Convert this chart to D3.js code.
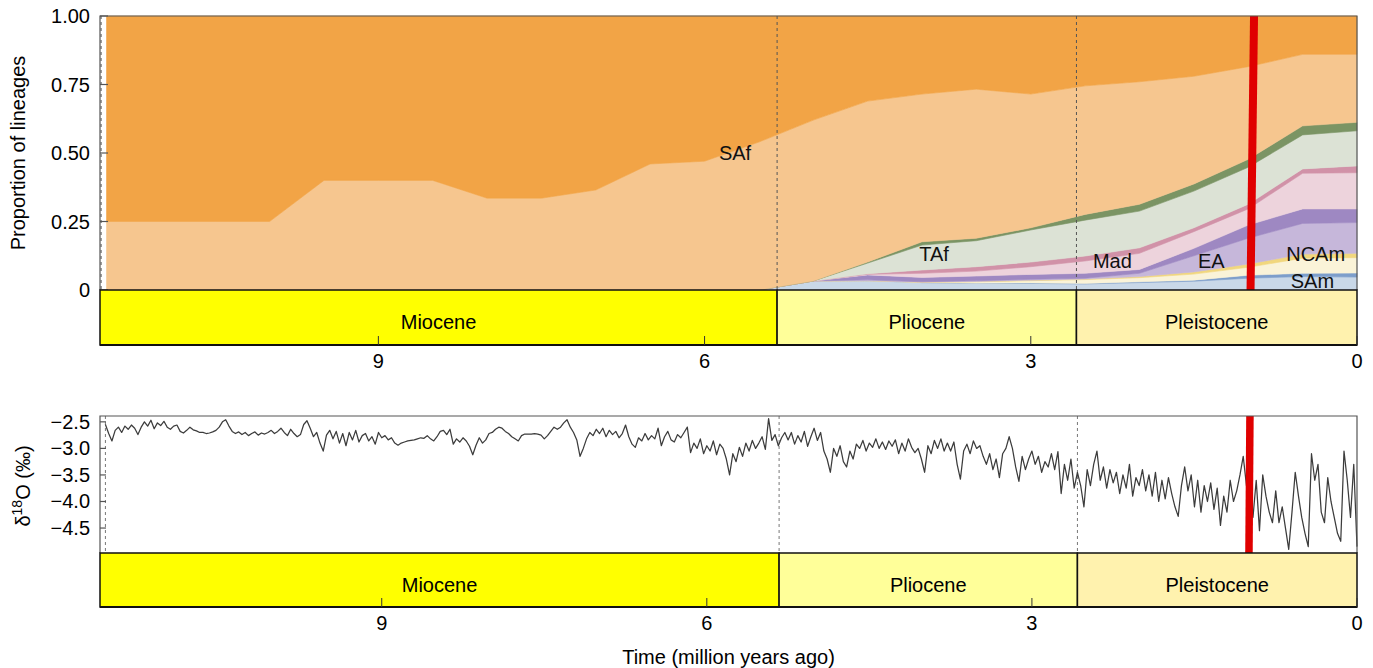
<!DOCTYPE html>
<html><head><meta charset="utf-8">
<script src="https://cdn.jsdelivr.net/npm/d3@7"></script>
<style>
body{margin:0;background:#fff}
svg{display:block;font-family:"Liberation Sans",Arial,Helvetica,sans-serif}
</style>
</head><body>
<svg id="chart" width="1373" height="668"></svg>
<script>
// ---------- DATA ----------
const times = [11.5,11.0,10.5,10.0,9.5,9.0,8.5,8.0,7.5,7.0,6.5,6.0,5.5,5.0,4.5,4.0,3.5,3.0,2.5,2.0,1.5,1.0,0.5,0.0];
const Z13 = [0,0,0,0,0,0,0,0,0,0,0,0,0];
// layer proportions, bottom to top
const SAm_b  = Z13.concat([.033,.034,.027,.024,.024,.022,.027,.032,.043,.049,.047]);
const SAm_t  = Z13.concat([0,0,0,.001,.002,.002,.003,.004,.011,.012,.015]);
const NCAm_b = Z13.concat([0,0,.001,.005,.008,.014,.015,.022,.029,.055,.056]);
const NCAm_t = Z13.concat([0,0,.001,.001,.002,.002,.004,.008,.012,.015,.016]);
const EA_b   = Z13.concat([0,.003,.001,.003,.003,.003,.012,.059,.094,.112,.112]);
const EA_t   = Z13.concat([0,.018,.016,.017,.018,.018,.014,.027,.048,.053,.050]);
const Mad_b  = Z13.concat([0,.002,.015,.018,.028,.045,.059,.061,.059,.130,.132]);
const Mad_t  = Z13.concat([0,.002,.012,.016,.017,.018,.020,.014,.017,.016,.025]);
const TAf_b  = Z13.concat([0,.039,.091,.095,.117,.131,.134,.134,.135,.124,.128]);
const TAf_t  = Z13.concat([0,.004,.012,.009,.008,.021,.025,.026,.029,.033,.031]);
const SAf_b  = [.25,.25,.25,.25,.40,.40,.40,.335,.335,.365,.46,.47,.54,.587,.586,.539,.544,.488,.469,.447,.393,.338,.261,.248];
const SAf_t  = [.75,.75,.75,.75,.60,.60,.60,.665,.665,.635,.54,.53,.46,.38,.31,.285,.267,.285,.255,.24,.22,.185,.14,.14];

const layerKeys = ["SAm_b","SAm_t","NCAm_b","NCAm_t","EA_b","EA_t","Mad_b","Mad_t","TAf_b","TAf_t","SAf_b","SAf_t"];
const layerColors = ["#C9D8E8","#7D9ECB","#FAF3D8","#F1D77E","#C6B7DA","#9E88C2","#EDD3DC","#D192A8","#DCE2D5","#7B9464","#F6C68F","#F2A446"];

const regionLabels = ["SAf","TAf","Mad","EA","NCAm","SAm"];
const regionLabelAge = [5.72,3.89,2.25,1.34,0.38,0.41];
const regionLabelProp = [0.476,0.106,0.08,0.08,0.106,0.008];

const epochNames = ["Miocene","Pliocene","Pleistocene"];
const epochStart = [23.03,5.333,2.58];
const epochEnd = [5.333,2.58,0];
const epochColors = ["#FFFF00","#FFFF99","#FFF2AE"];

const timeTicks = [9,6,3,0];
const propTicks = [0,0.25,0.5,0.75,1];
const propTickLabels = ["0","0.25","0.50","0.75","1.00"];
const d18OTicks = [-2.5,-3.0,-3.5,-4.0,-4.5];

const d18OStartAge = 11.55, d18OStep = 0.03;
const d18O = [
-2.55,-2.72,-2.86,-2.66,-2.6,-2.7,-2.58,-2.64,-2.56,-2.62,
-2.74,-2.6,-2.5,-2.58,-2.47,-2.63,-2.52,-2.57,-2.49,-2.6,
-2.64,-2.58,-2.56,-2.68,-2.71,-2.66,-2.6,-2.65,-2.67,-2.7,
-2.7,-2.72,-2.71,-2.69,-2.66,-2.6,-2.5,-2.46,-2.58,-2.68,
-2.72,-2.69,-2.74,-2.7,-2.76,-2.72,-2.69,-2.75,-2.71,-2.73,
-2.7,-2.66,-2.72,-2.68,-2.62,-2.7,-2.76,-2.64,-2.72,-2.78,
-2.74,-2.55,-2.48,-2.62,-2.78,-2.7,-2.9,-3.05,-2.75,-2.66,
-2.82,-2.68,-2.9,-2.72,-2.95,-2.7,-2.84,-2.66,-2.88,-2.76,
-2.72,-2.86,-2.78,-2.92,-2.7,-2.8,-2.76,-2.84,-2.8,-2.9,
-2.94,-2.9,-2.88,-2.86,-2.85,-2.84,-2.82,-2.8,-2.81,-2.76,
-2.82,-2.86,-2.78,-2.68,-2.66,-2.74,-2.64,-2.92,-2.82,-2.88,
-2.8,-2.86,-2.96,-3.12,-2.94,-2.8,-2.9,-2.84,-2.72,-2.7,
-2.64,-2.6,-2.62,-2.68,-2.72,-2.78,-2.82,-2.86,-2.76,-2.73,
-2.73,-2.73,-2.72,-2.73,-2.75,-2.82,-2.76,-2.68,-2.6,-2.64,
-2.6,-2.52,-2.46,-2.6,-2.7,-2.84,-3.15,-3.0,-2.82,-2.7,
-2.76,-2.64,-2.72,-2.62,-2.78,-2.66,-2.74,-2.68,-2.8,-2.72,
-2.56,-2.78,-2.92,-2.98,-2.8,-2.86,-2.72,-2.84,-2.76,-2.82,
-2.62,-2.95,-2.78,-2.68,-2.84,-2.88,-2.74,-2.8,-2.7,-2.6,
-3.08,-2.9,-3.0,-2.82,-3.1,-2.95,-3.05,-2.86,-3.12,-2.92,
-3.0,-3.2,-3.5,-3.1,-3.25,-2.98,-3.15,-2.9,-3.05,-2.85,
-3.0,-2.9,-2.78,-3.02,-2.44,-2.85,-2.74,-2.95,-2.8,-2.7,
-2.84,-2.7,-2.92,-2.76,-2.88,-2.68,-2.96,-2.78,-2.62,-2.85,
-2.7,-3.05,-3.2,-3.45,-3.0,-3.15,-2.95,-3.25,-3.35,-3.05,
-3.2,-2.92,-3.0,-2.85,-3.05,-2.9,-2.98,-2.82,-3.0,-2.88,
-3.02,-2.86,-2.96,-2.84,-3.1,-2.9,-3.05,-2.82,-2.98,-3.08,
-3.0,-3.2,-3.45,-2.95,-3.1,-2.85,-3.0,-2.82,-3.05,-2.9,
-3.05,-2.88,-3.3,-3.58,-3.05,-2.92,-3.1,-2.86,-3.0,-2.95,
-3.15,-3.3,-3.1,-3.4,-3.2,-3.55,-3.1,-3.0,-2.78,-3.0,
-3.35,-3.62,-3.15,-3.4,-3.2,-3.05,-3.3,-3.15,-3.45,-3.25,
-3.35,-3.1,-3.4,-3.06,-3.85,-3.3,-3.6,-3.2,-3.75,-3.45,
-3.7,-4.1,-3.4,-3.7,-3.3,-3.05,-3.6,-3.35,-3.75,-3.4,
-3.65,-3.45,-3.85,-3.5,-3.75,-3.3,-3.9,-3.55,-3.7,-3.4,
-3.8,-3.5,-3.9,-3.45,-4.0,-3.6,-3.95,-3.55,-3.85,-4.1,
-4.28,-3.7,-3.35,-3.8,-3.5,-4.1,-3.6,-4.2,-3.7,-4.0,
-3.65,-4.15,-3.75,-4.45,-3.9,-4.2,-3.6,-4.0,-3.8,-3.5,
-3.15,-3.7,-4.0,-4.3,-3.6,-4.55,-3.5,-3.9,-4.2,-4.4,
-3.8,-4.4,-4.1,-4.5,-4.9,-4.2,-3.45,-3.9,-4.3,-4.6,
-4.85,-3.1,-3.6,-3.3,-4.2,-4.4,-3.55,-4.0,-4.3,-4.6,
-4.75,-3.05,-3.6,-4.3,-3.3,-4.85
];

const markerAgeTop = [0.947,0.979];   // red marker (top, bottom of upper panel)
const markerAgeBot = [0.988,0.997];
const boundaryAges = [11.55,5.333,2.58];

// ---------- LAYOUT ----------
const svg = d3.select("#chart");
const L = 100, R = 1357;
const top1 = 16, bot1 = 290, bar1b = 345;
const top2 = 416, bot2 = 553, bar2b = 607;
const FS = 20;

const xTop = d3.scaleLinear().domain([11.56,0]).range([L,R]);
const yTop = d3.scaleLinear().domain([0,1]).range([bot1,top1]);
const xBot = d3.scaleLinear().domain([11.6,0]).range([L,R]);
const yBot = d3.scaleLinear().domain([-4.97,-2.39]).range([bot2,top2]);

// ---------- TOP PANEL ----------
const layerData = {SAm_b,SAm_t,NCAm_b,NCAm_t,EA_b,EA_t,Mad_b,Mad_t,TAf_b,TAf_t,SAf_b,SAf_t};
const rows = times.map((t,i)=>{const r={t}; layerKeys.forEach(k=>r[k]=layerData[k][i]); return r;});
const series = d3.stack().keys(layerKeys).offset(d3.stackOffsetExpand)(rows);
const area = d3.area().x(d=>xTop(d.data.t)).y0(d=>yTop(d[0])).y1(d=>yTop(d[1]));
svg.append("g").selectAll("path").data(series).join("path")
  .attr("d",area).attr("fill",(d,i)=>layerColors[i])
  .attr("stroke",(d,i)=>layerColors[i]).attr("stroke-width",0.6);

svg.append("g").selectAll("line").data(boundaryAges).join("line")
  .attr("x1",d=>xTop(d)).attr("x2",d=>xTop(d)).attr("y1",top1).attr("y2",bot1)
  .attr("stroke","#555").attr("stroke-width",1).attr("stroke-dasharray","3,3");

svg.append("line").attr("x1",xTop(markerAgeTop[0])).attr("y1",top1)
  .attr("x2",xTop(markerAgeTop[1])).attr("y2",bot1)
  .attr("stroke","#E00000").attr("stroke-width",8);

svg.append("path").attr("d",`M${L},${bot1}V${top1}H${R}V${bot1}`)
  .attr("fill","none").attr("stroke","#555").attr("stroke-width",1.2);

const gy1 = svg.append("g");
gy1.selectAll("line").data(propTicks).join("line")
  .attr("x1",L).attr("x2",L+8).attr("y1",d=>yTop(d)).attr("y2",d=>yTop(d))
  .attr("stroke","#555").attr("stroke-width",1.2);
gy1.selectAll("text").data(propTicks).join("text")
  .attr("x",90).attr("y",d=>yTop(d)+7).attr("text-anchor","end")
  .attr("font-size",FS).text((d,i)=>propTickLabels[i]);
svg.append("text").attr("transform",`translate(25,${(top1+bot1)/2}) rotate(-90)`)
  .attr("text-anchor","middle").attr("font-size",FS).text("Proportion of lineages");

svg.append("g").selectAll("text").data(regionLabels).join("text")
  .attr("x",(d,i)=>xTop(regionLabelAge[i])).attr("y",(d,i)=>yTop(regionLabelProp[i]))
  .attr("text-anchor","middle").attr("font-size",FS).attr("fill","#111").text(d=>d);

// ---------- EPOCH BARS ----------
function epochBar(x, yT, yB){
  const g = svg.append("g");
  const d0 = x.domain()[0];
  g.selectAll("rect").data(epochNames).join("rect")
    .attr("x",(d,i)=>x(Math.min(epochStart[i],d0))).attr("y",yT)
    .attr("width",(d,i)=>x(epochEnd[i])-x(Math.min(epochStart[i],d0))).attr("height",yB-yT)
    .attr("fill",(d,i)=>epochColors[i]).attr("stroke","#111").attr("stroke-width",1.5);
  g.selectAll("text.ep").data(epochNames).join("text").attr("class","ep")
    .attr("x",(d,i)=>(x(Math.min(epochStart[i],d0))+x(epochEnd[i]))/2)
    .attr("y",(yT+yB)/2+11.5).attr("text-anchor","middle").attr("font-size",FS).text(d=>d);
  g.append("line").attr("x1",L).attr("x2",R).attr("y1",yB).attr("y2",yB).attr("stroke","#111").attr("stroke-width",2);
  g.selectAll("line.tk").data(timeTicks).join("line").attr("class","tk")
    .attr("x1",d=>x(d)).attr("x2",d=>x(d)).attr("y1",yB).attr("y2",yB-9)
    .attr("stroke","#333").attr("stroke-width",1);
  g.selectAll("text.tl").data(timeTicks).join("text").attr("class","tl")
    .attr("x",d=>x(d)).attr("y",yB+23).attr("text-anchor","middle").attr("font-size",FS).text(d=>d);
}
epochBar(xTop, bot1, bar1b);

// ---------- BOTTOM PANEL ----------
svg.append("g").selectAll("line").data(boundaryAges).join("line")
  .attr("x1",d=>xBot(d)).attr("x2",d=>xBot(d)).attr("y1",top2).attr("y2",bot2)
  .attr("stroke","#777").attr("stroke-width",1).attr("stroke-dasharray","3,3");

const d18OPts = d18O.map((v,i)=>({age:d18OStartAge - i*d18OStep, v}));
svg.append("path").datum(d18OPts)
  .attr("d",d3.line().x(d=>xBot(d.age)).y(d=>yBot(d.v)))
  .attr("fill","none").attr("stroke","#3c3c3c").attr("stroke-width",1.25)
  .attr("stroke-linejoin","round");

svg.append("line").attr("x1",xBot(markerAgeBot[0])).attr("y1",top2)
  .attr("x2",xBot(markerAgeBot[1])).attr("y2",bot2)
  .attr("stroke","#E00000").attr("stroke-width",7.5);

svg.append("path").attr("d",`M${L},${bot2}V${top2}H${R}V${bot2}`)
  .attr("fill","none").attr("stroke","#555").attr("stroke-width",1.2);

const gy2 = svg.append("g");
gy2.selectAll("line").data(d18OTicks).join("line")
  .attr("x1",L).attr("x2",L+6).attr("y1",d=>yBot(d)).attr("y2",d=>yBot(d))
  .attr("stroke","#555").attr("stroke-width",1.2);
gy2.selectAll("text").data(d18OTicks).join("text")
  .attr("x",90).attr("y",d=>yBot(d)+7).attr("text-anchor","end")
  .attr("font-size",FS).text(d=>"\u2212"+Math.abs(d).toFixed(1));
const t2 = svg.append("text").attr("transform",`translate(30,486) rotate(-90)`)
  .attr("text-anchor","middle").attr("font-size",FS);
t2.append("tspan").text("\u03B4");
t2.append("tspan").attr("dy",-8).attr("font-size",14).text("18");
t2.append("tspan").attr("dy",8).text("O (\u2030)");

epochBar(xBot, bot2, bar2b);

svg.append("text").attr("x",(L+R)/2).attr("y",664).attr("text-anchor","middle")
  .attr("font-size",FS).text("Time (million years ago)");
</script>
</body></html>
